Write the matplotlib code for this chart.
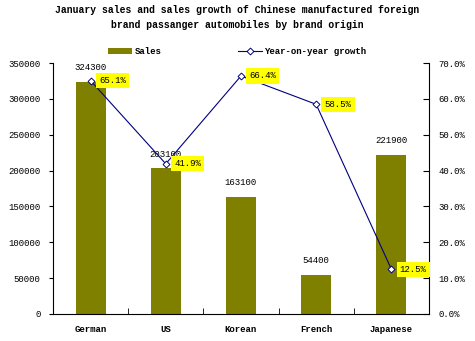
import numpy as np
import matplotlib
matplotlib.use('Agg')
import matplotlib.pyplot as plt
from matplotlib.ticker import FuncFormatter

origins = ['German', 'US', 'Korean', 'French', 'Japanese']
sales = [324300, 203100, 163100, 54400, 221900]
growth = [65.1, 41.9, 66.4, 58.5, 12.5]

plt.rcParams['font.family'] = ['Liberation Mono', 'DejaVu Sans Mono']
plt.rcParams['font.size'] = 6.5

fig = plt.figure(figsize=(4.75, 3.41), dpi=100)
ax = fig.add_axes([0.1116, 0.0792, 0.7914, 0.7358])
x = np.arange(len(origins))

bars = ax.bar(x, sales, width=0.4, color='#808000', label='Sales', zorder=2)
ax.set_xlim(-0.5, len(origins) - 0.5)
ax.set_ylim(0, 350000)
ax.set_yticks(np.arange(0, 350001, 50000))
ax.set_xticks(x)
ax.set_xticklabels(origins, fontweight='bold')
ax.set_xticks(np.arange(0.5, len(origins) - 1, 1), minor=True)
ax.tick_params(axis='x', which='major', length=0, pad=8)
ax.tick_params(axis='x', which='minor', direction='in', length=4)
ax.tick_params(axis='y', direction='out', length=3, pad=6)
for s in ['top', 'right']:
    ax.spines[s].set_visible(False)

for xi, v in zip(x, sales):
    ax.annotate(str(v), (xi, v), xytext=(0, 7), textcoords='offset points',
                ha='center', va='bottom')

ax2 = ax.twinx()
line, = ax2.plot(x, growth, color='#000080', lw=0.8, marker='D', markersize=3.5,
                 markerfacecolor='white', markeredgecolor='#000080', markeredgewidth=0.7,
                 label='Year-on-year growth', zorder=3)
ax2.set_ylim(0, 70)
ax2.set_yticks(np.arange(0, 71, 10))
ax2.yaxis.set_major_formatter(FuncFormatter(lambda v, p: '%.1f%%' % v))
ax2.tick_params(axis='y', direction='in', length=4, pad=7)
for s in ['top', 'left', 'bottom']:
    ax2.spines[s].set_visible(False)

for xi, g in zip(x, growth):
    ax2.annotate('%.1f%%' % g, (xi, g), xytext=(6, 0), textcoords='offset points',
                 ha='left', va='center',
                 bbox=dict(boxstyle='square,pad=0.35', fc='#ffff00', ec='none'))

fig.text(0.5, 0.972, 'January sales and sales growth of Chinese manufactured foreign',
         ha='center', va='center', fontsize=7, fontweight='bold')
fig.text(0.5, 0.928, 'brand passanger automobiles by brand origin',
         ha='center', va='center', fontsize=7, fontweight='bold')

fig.legend([bars, line], ['Sales', 'Year-on-year growth'], loc='center',
           bbox_to_anchor=(0.5, 0.848), ncol=2, frameon=False, columnspacing=8.5,
           handlelength=2.6, handletextpad=0.3, prop={'weight': 'bold', 'size': 6.5})

fig.savefig('out.png', dpi=100)
